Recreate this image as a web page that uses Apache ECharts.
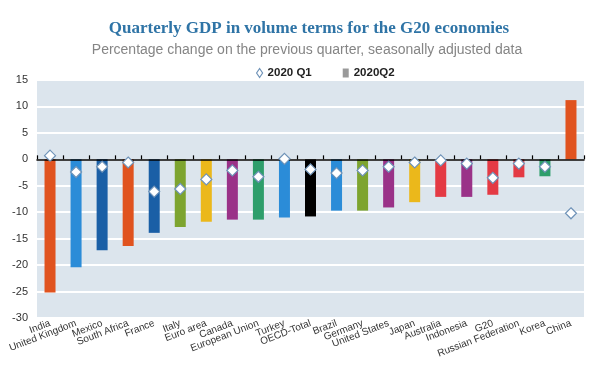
<!DOCTYPE html>
<html>
<head>
<meta charset="utf-8">
<script src="https://cdn.jsdelivr.net/npm/echarts@6/dist/echarts.min.js"></script>
<style>html,body{margin:0;padding:0;background:#fff}#c{width:595px;height:379px}</style>
</head>
<body>
<div id="c"></div>
<script>
const categories = ["India","United Kingdom","Mexico","South Africa","France","Italy","Euro area","Canada","European Union","Turkey","OECD-Total","Brazil","Germany","United States","Japan","Australia","Indonesia","G20","Russian Federation","Korea","China"];
const q2Values = [-25.2,-20.4,-17.2,-16.4,-13.9,-12.8,-11.8,-11.4,-11.4,-11.0,-10.8,-9.7,-9.7,-9.1,-8.1,-7.1,-7.1,-6.7,-3.4,-3.2,11.2];
const q1Values = [0.7,-2.4,-1.4,-0.6,-6.1,-5.6,-3.8,-2.1,-3.3,0.1,-1.9,-2.6,-2.1,-1.4,-0.6,-0.2,-0.8,-3.5,-0.8,-1.4,-10.2];
const yTicks = [-30,-25,-20,-15,-10,-5,0,5,10,15];
const barColors = ["#E0531F","#2B8CD8","#1A5FA6","#E0531F","#1A5FA6","#7DA42F","#EBB81B","#9A3288","#2E9E6B","#2B8CD8","#000000","#2B8CD8","#7DA42F","#9A3288","#EBB81B","#E43A44","#9A3288","#E43A44","#E43A44","#2E9E6B","#E0531F"];

const chart = echarts.init(document.getElementById('c'), null, {renderer:'canvas'});
chart.setOption({
  animation:false,
  title:[
    {text:'Quarterly GDP in volume terms for the G20 economies', left:304, top:15, textAlign:'center',
     textStyle:{fontFamily:'Liberation Serif', fontSize:17, fontWeight:'bold', color:'#2F74A6'}},
    {text:'Percentage change on the previous quarter, seasonally adjusted data', left:302, top:38, textAlign:'center',
     textStyle:{fontFamily:'Liberation Sans', fontSize:14, fontWeight:'normal', color:'#858585'}}
  ],
  legend:{
    top:62, left:251, itemGap:31, itemWidth:6, itemHeight:9,
    textStyle:{fontFamily:'Liberation Sans', fontSize:11.5, fontWeight:'bold', color:'#222', padding:[0,0,0,0]},
    data:[
      {name:'2020 Q1', icon:'diamond', itemStyle:{color:'#fff', borderColor:'#6F93B8', borderWidth:1.2}},
      {name:'2020Q2', icon:'rect', itemStyle:{color:'#9A9A9A'}}
    ]
  },
  grid:{left:37, right:11, top:80, bottom:61, show:true, backgroundColor:'#DCE5ED', borderWidth:0},
  xAxis:[
    {type:'category', data:categories, position:'bottom',
     axisLine:{show:false, onZero:false}, axisTick:{show:false},
     axisLabel:{interval:0, rotate:21, margin:5, fontFamily:'Liberation Sans', fontSize:10, color:'#333'}},
    {type:'category', data:categories, position:'top', z:10,
     axisLine:{show:true, onZero:true, lineStyle:{color:'#000', width:1.5}},
     axisTick:{show:true, inside:false, length:4, interval:0, lineStyle:{color:'#000', width:1.2}},
     axisLabel:{show:false}, splitLine:{show:false}}
  ],
  yAxis:{type:'value', min:yTicks[0], max:yTicks[yTicks.length-1], interval:5,
    axisLine:{show:false}, axisTick:{show:false},
    axisLabel:{margin:9, fontFamily:'Liberation Sans', fontSize:11, color:'#333'},
    splitLine:{show:true, lineStyle:{color:'#ffffff', width:2}}},
  series:[
    {name:'2020Q2', type:'bar', xAxisIndex:0, barWidth:11,
     data:q2Values.map((v,i)=>({value:v, itemStyle:{color:barColors[i]}})), z:2},
    {name:'2020 Q1', type:'scatter', xAxisIndex:0, symbol:'diamond', symbolSize:[11,11],
     itemStyle:{color:'#fff', borderColor:'#6F93B8', borderWidth:1.2, opacity:1},
     data:q1Values, z:12}
  ]
});
</script>
</body>
</html>
